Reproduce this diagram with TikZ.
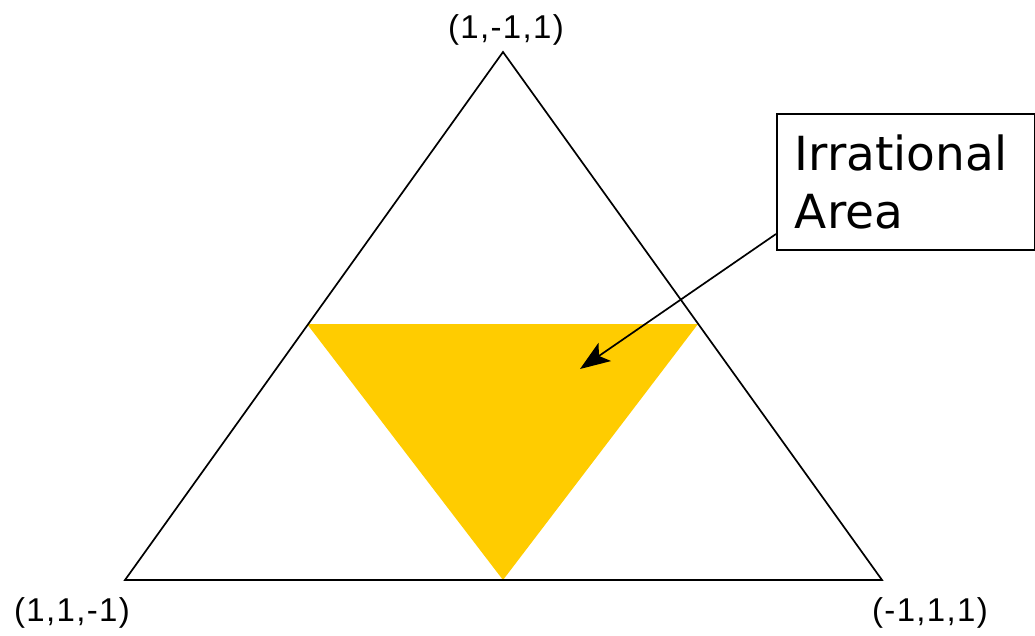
\documentclass[tikz,border=0pt]{standalone}
\usepackage{fontspec}
\setmainfont{Liberation Sans}
\newfontfamily\boxfont{DejaVu Sans}
\usetikzlibrary{arrows.meta}
\definecolor{irrat}{HTML}{FFCC00}
\begin{document}
\begin{tikzpicture}[x=1pt,y=-1pt,
  edge/.style={line width=1.7pt,line join=miter},
  lab/.style={font=\fontsize{33}{36}\selectfont\addfontfeatures{LetterSpace=4}, inner sep=0pt},
  callout/.style={draw,line width=1.7pt,minimum width=258pt,minimum height=136pt,
    text width=222pt,inner xsep=18pt,align=left,anchor=north west,
    font=\boxfont\fontsize{47}{58}\selectfont}]
\useasboundingbox (0,0) rectangle (1035,636);
\coordinate (top) at (503,52);
\coordinate (bl) at (125,580);
\coordinate (br) at (882,580);
\coordinate (yl) at (307,324);
\coordinate (yr) at (698,324);
\coordinate (yb) at (503,580);
\fill[irrat] (yl) -- (yr) -- (yb) -- cycle;
\draw[edge] (top) -- (br) -- (bl) -- cycle;
\node[lab] (ltop) at (506,30) {(1,-1,1)};
\node[lab] (lbl) at (72,613) {(1,1,-1)};
\node[lab] (lbr) at (930,613) {(-1,1,1)};
\node[callout] (box) at (776,113) {Irrational\\Area};
\coordinate (astart) at (776,234);
\coordinate (atip) at (580,369);
\draw[line width=1.7pt,arrows={-Stealth[length=30pt,width=22pt,inset=7pt]}] (astart) -- (atip);
\end{tikzpicture}
\end{document}
